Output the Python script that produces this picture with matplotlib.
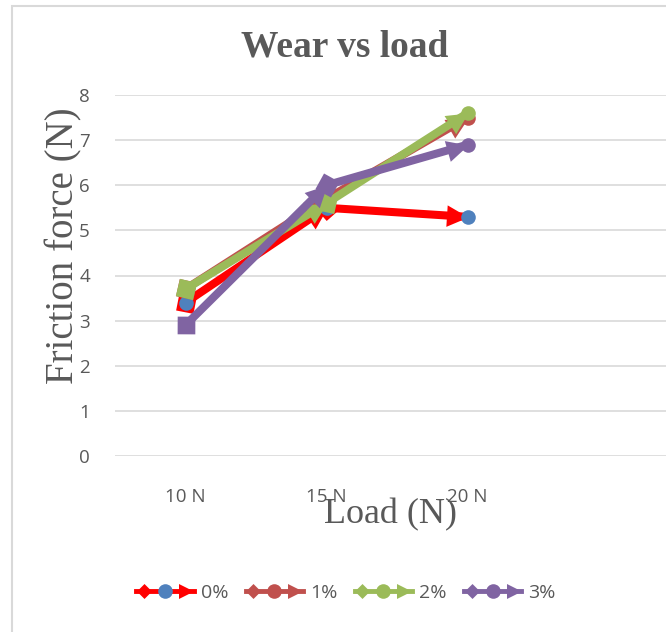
import numpy as np
import matplotlib
matplotlib.use("Agg")
import matplotlib.pyplot as plt
from matplotlib.path import Path
from matplotlib.markers import MarkerStyle
from matplotlib.transforms import Affine2D
from matplotlib.lines import Line2D
from matplotlib.legend_handler import HandlerTuple
from matplotlib.patches import Rectangle

# ---- data ----
categories = ['10 N', '15 N', '20 N']
series_names = ['0%', '1%', '2%', '3%']
s0 = [3.4, 5.5, 5.3]
s1 = [3.7, 5.7, 7.5]
s2 = [3.7, 5.6, 7.6]
s3 = [2.9, 6.0, 6.9]
series_values = [s0, s1, s2, s3]
line_colors = ['#FF0000', '#C0504D', '#9BBB59', '#8064A2']
point_colors = ['#4F81BD', '#C0504D', '#9BBB59', '#8064A2']
yticks = [0, 1, 2, 3, 4, 5, 6, 7, 8]

GRAY = '#595959'
GRID = '#D9D9D9'

W, H = 666, 632
fig = plt.figure(figsize=(W / 100, H / 100), dpi=100)
fig.patch.set_facecolor('white')

# chart border (cropped at right/bottom)
fig.patches.append(Rectangle((12 / W, -0.1), 1.2, (H - 6) / H + 0.1,
                             transform=fig.transFigure, fill=False,
                             edgecolor=GRID, lw=1.5))

left, right, bottom, top = 115, 679, 456, 95
ax = fig.add_axes([left / W, 1 - bottom / H, (right - left) / W, (bottom - top) / H])
ax.set_xlim(-0.5, 3.5)
ax.set_ylim(0, 8)
for s in ax.spines.values():
    s.set_visible(False)
ax.set_yticks(yticks)
ax.grid(axis='y', color=GRID, lw=1.2)
ax.set_axisbelow(True)
x = np.arange(len(categories))
ax.set_xticks(x)
ax.set_xticklabels(categories)
ax.tick_params(axis='both', length=0, labelcolor=GRAY, labelsize=13.5)
ax.tick_params(axis='y', pad=18)
ax.tick_params(axis='x', pad=23)
for lab in ax.get_xticklabels() + ax.get_yticklabels():
    lab.set_fontfamily('Open Sans')

# marker paths
tri_path = Path([(0, 0), (-1, 0.5), (-1, -0.5), (0, 0)],
                [Path.MOVETO, Path.LINETO, Path.LINETO, Path.CLOSEPOLY])
dia_path = Path([(1, 0), (0, 1), (-1, 0), (0, -1), (1, 0)],
                [Path.MOVETO, Path.LINETO, Path.LINETO, Path.LINETO, Path.CLOSEPOLY])

def disp_angle(p0, p1):
    a = ax.transData.transform(p0)
    b = ax.transData.transform(p1)
    return np.degrees(np.arctan2(b[1] - a[1], b[0] - a[0]))

for k, (vals, lc, pc) in enumerate(zip(series_values, line_colors, point_colors)):
    z = 3 + k * 3
    for i in range(len(vals) - 1):
        p0 = (x[i], vals[i])
        p1 = (x[i + 1], vals[i + 1])
        ang = disp_angle(p0, p1)
        ax.plot([p0[0], p1[0]], [p0[1], p1[1]], color=lc, lw=5.8,
                solid_capstyle='butt', zorder=z)
        ax.plot([p0[0]], [p0[1]], ls='none',
                marker=MarkerStyle(dia_path, transform=Affine2D().rotate_deg(ang)),
                ms=18, color=lc, mec='none', zorder=z + 1)
        ax.plot([p1[0]], [p1[1]], ls='none',
                marker=MarkerStyle(tri_path, transform=Affine2D().rotate_deg(ang)),
                ms=31, color=lc, mec='none', zorder=z + 1)
    ax.plot(x, vals, ls='none', marker='o', ms=10.5, color=pc, mec='none', zorder=z + 2)

# labels
fig.text(345 / W, 1 - 47 / H, 'Wear vs load', ha='center', va='center',
         fontsize=27, fontweight='bold', family='Liberation Serif', color=GRAY)
ax.set_xlabel('Load (N)', fontsize=26, family='Liberation Serif', color=GRAY)
ax.xaxis.label.set_va('center')
ax.xaxis.set_label_coords((390 - left) / (right - left), (bottom - 515) / (bottom - top))
ax.set_ylabel('Friction force (N)', fontsize=28, family='Liberation Serif', color=GRAY)
ax.yaxis.label.set_va('center')
ax.yaxis.set_label_coords((64 - left) / (right - left), (bottom - 246) / (bottom - top))

# legend
u = 0.526
leg_path = Path(
    [(-1, 0), (-1 + u / 2, u / 2), (-1 + u, 0), (-1 + u / 2, -u / 2), (-1, 0),
     (1, 0), (1 - u, u / 2), (1 - u, -u / 2), (1, 0)],
    [Path.MOVETO, Path.LINETO, Path.LINETO, Path.LINETO, Path.CLOSEPOLY,
     Path.MOVETO, Path.LINETO, Path.LINETO, Path.CLOSEPOLY])
handles = []
for lc, pc in zip(line_colors, point_colors):
    h1 = Line2D([], [], color=lc, lw=3.5, marker=leg_path, ms=41, mec='none', mfc=lc)
    h2 = Line2D([], [], ls='none', marker='o', ms=10.5, color=pc, mec='none')
    handles.append((h1, h2))
leg = fig.legend(handles, series_names, loc='center', ncol=4,
                 bbox_to_anchor=(346 / W, 1 - 593 / H), frameon=False,
                 handler_map={tuple: HandlerTuple(ndivide=1, pad=0)},
                 handlelength=2.95, handletextpad=0.36, columnspacing=0.9,
                 numpoints=1, prop={'family': 'Open Sans', 'size': 14})
for t in leg.get_texts():
    t.set_color(GRAY)

fig.savefig('out.png', dpi=100)
